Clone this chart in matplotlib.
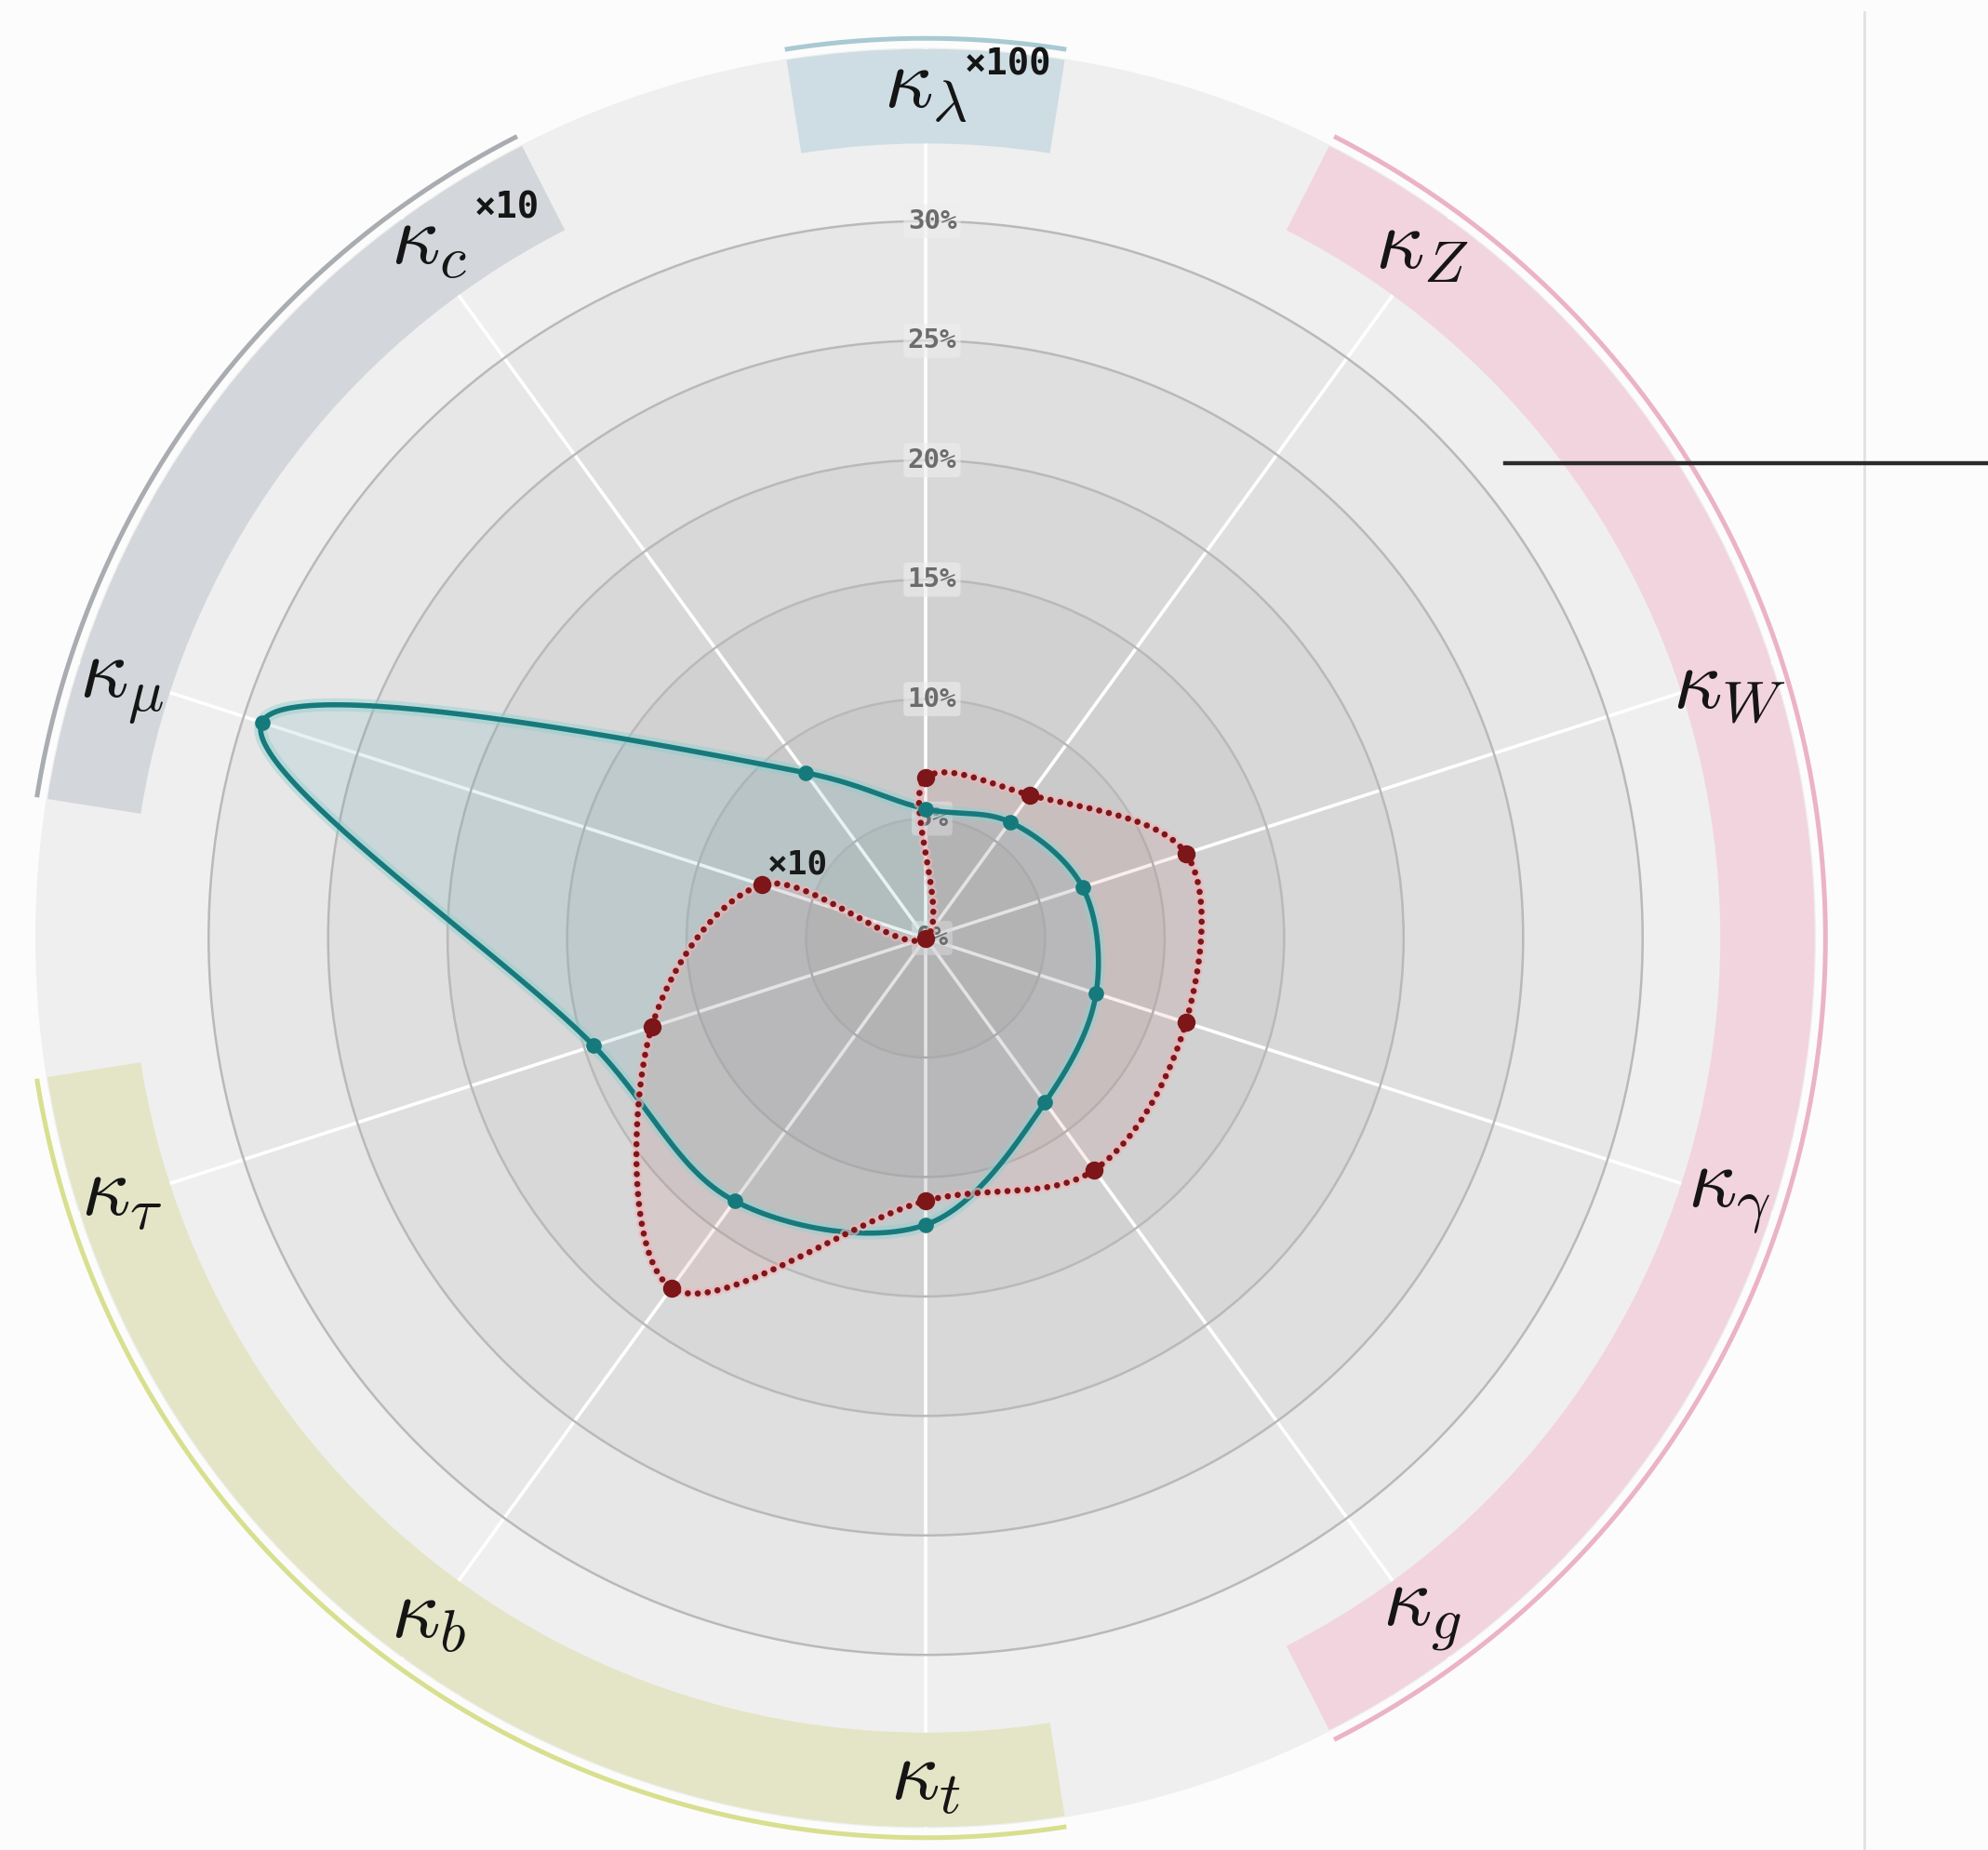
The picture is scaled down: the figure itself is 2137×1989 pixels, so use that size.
import numpy as np
import matplotlib
matplotlib.use('Agg')
import matplotlib.pyplot as plt
import matplotlib.patheffects as pe
from matplotlib.lines import Line2D

plt.rcParams['mathtext.fontset'] = 'cm'

# ---------------- data ----------------
categories = [r'$\kappa_\lambda$', r'$\kappa_Z$', r'$\kappa_W$', r'$\kappa_\gamma$', r'$\kappa_g$',
              r'$\kappa_t$', r'$\kappa_b$', r'$\kappa_\tau$', r'$\kappa_\mu$', r'$\kappa_c$']
teal_values = [5.4, 6.0, 6.9, 7.5, 8.5, 12.0, 13.6, 14.6, 29.2, 8.55]
red_values = [6.7, 7.4, 11.45, 11.45, 12.0, 11.0, 18.1, 12.05, 7.2, 0.0]
radial_ticks = [0, 5, 10, 15, 20, 25, 30]
radial_tick_labels = ['0%', '5%', '10%', '15%', '20%', '25%', '30%']
# groups: (first index, last index, band colour, outer line colour)
group_first = [0, 1, 5, 8]
group_last = [0, 4, 7, 9]
group_band_colors = ['#cddde3', '#f2d4de', '#e4e5c6', '#d3d6da']
group_line_colors = ['#a9c9d3', '#ebb3c5', '#d8df8e', '#a9acb1']
label_notes = {0: '×100', 9: '×10'}
red_point_notes = {8: '×10'}

W, H, DPI = 2137, 1989, 200
fig = plt.figure(figsize=(W / DPI, H / DPI), dpi=DPI, facecolor='#fcfcfc')

cx, cy, R = 995.0, 1008.5, 957.0
ax = fig.add_axes([(cx - R) / W, (H - cy - R) / H, 2 * R / W, 2 * R / H], projection='polar')
RMAX = 37.25
ax.set_theta_zero_location('N')
ax.set_theta_direction(-1)
ax.set_ylim(0, RMAX)
ax.set_facecolor('#efefef')
ax.spines['polar'].set_visible(False)
ax.set_axisbelow(True)

n = len(categories)
step = 2 * np.pi / n
theta = np.arange(n) * step

ax.set_xticks(theta)
ax.set_xticklabels([])
ax.set_yticks(radial_ticks[1:])
ax.set_yticklabels([])
ax.xaxis.grid(True, color='white', lw=1.3)
ax.yaxis.grid(True, color='#b9b9b9', lw=0.9)

# concentric shading
circ = np.linspace(0, 2 * np.pi, 500)
for r in radial_ticks[1:]:
    ax.fill_between(circ, 0, r, color='black', alpha=0.03, lw=0, zorder=0.3)

# group bands
pad = np.deg2rad(9)
for f, l, bc, lc in zip(group_first, group_last, group_band_colors, group_line_colors):
    a0 = theta[f] - pad
    a1 = theta[l] + pad
    ax.bar((a0 + a1) / 2, 3.95, width=a1 - a0, bottom=33.25, color=bc, edgecolor='none', zorder=2)
    arc = np.linspace(a0, a1, 200)
    ax.plot(arc, np.full_like(arc, 37.65), color=lc, lw=1.8, solid_capstyle='butt',
            clip_on=False, zorder=2)

# radial tick labels
for r, lbl in zip(radial_ticks, radial_tick_labels):
    ax.annotate(lbl, xy=(0, r), xytext=(2.5, 0), textcoords='offset points',
                ha='center', va='center', fontsize=10.5, family='DejaVu Sans Mono',
                weight='bold', color='#6c6c6c', zorder=3,
                bbox=dict(boxstyle='round,pad=0.15', fc='#eeeeee', ec='none', alpha=0.6))


def smooth_closed(th, rv, m=60, alpha=0.5):
    th = np.asarray(th, float)
    rv = np.asarray(rv, float)
    P = np.column_stack([rv * np.sin(th), rv * np.cos(th)])
    N = len(P)
    out = []
    for i in range(N):
        p0, p1, p2, p3 = P[(i - 1) % N], P[i], P[(i + 1) % N], P[(i + 2) % N]
        t0 = 0.0
        t1 = t0 + max(np.linalg.norm(p1 - p0), 1e-6) ** alpha
        t2 = t1 + max(np.linalg.norm(p2 - p1), 1e-6) ** alpha
        t3 = t2 + max(np.linalg.norm(p3 - p2), 1e-6) ** alpha
        t = np.linspace(t1, t2, m, endpoint=False)[:, None]
        A1 = (t1 - t) / (t1 - t0) * p0 + (t - t0) / (t1 - t0) * p1
        A2 = (t2 - t) / (t2 - t1) * p1 + (t - t1) / (t2 - t1) * p2
        A3 = (t3 - t) / (t3 - t2) * p2 + (t - t2) / (t3 - t2) * p3
        B1 = (t2 - t) / (t2 - t0) * A1 + (t - t0) / (t2 - t0) * A2
        B2 = (t3 - t) / (t3 - t1) * A2 + (t - t1) / (t3 - t1) * A3
        C = (t2 - t) / (t2 - t1) * B1 + (t - t1) / (t2 - t1) * B2
        out.append(C)
    out.append(P[:1])
    pts = np.vstack(out)
    return np.arctan2(pts[:, 0], pts[:, 1]), np.hypot(pts[:, 0], pts[:, 1])


# teal series
tc = '#167a7c'
tth, trr = smooth_closed(theta, teal_values)
ax.fill(tth, trr, color='#3a9aa2', alpha=0.12, lw=0, zorder=4)
ax.plot(tth, trr, color=tc, lw=2.0, zorder=5,
        path_effects=[pe.Stroke(linewidth=5, foreground='#8fd0d0', alpha=0.45), pe.Normal()])
ax.plot(theta, teal_values, 'o', color=tc, ms=5, zorder=6)

# red series
rc = '#7d1619'
rth, rrr = smooth_closed(theta, red_values)
ax.fill(rth, rrr, color='#c4323c', alpha=0.08, lw=0, zorder=4)
ax.plot(rth, rrr, color=rc, lw=2.4, ls=(0, (0.01, 1.6)), dash_capstyle='round', zorder=5,
        path_effects=[pe.Stroke(linewidth=4.2, foreground='#f0b4b8', alpha=0.65), pe.Normal()])
ax.plot(theta, red_values, 'o', color=rc, ms=6, zorder=6)
for i, note in red_point_notes.items():
    ax.annotate(note, xy=(theta[i], red_values[i]), xytext=(14, 8), textcoords='offset points',
                ha='center', va='center', fontsize=13, family='DejaVu Sans Mono', weight='bold',
                color='#1a1a1a', zorder=7)

# category labels
label_dy = [4, 4, -3, 2, 4, 3, 3, 3, -3, 6]
for i, lbl in enumerate(categories):
    ax.annotate(lbl, xy=(theta[i], 35.35), xytext=(0, label_dy[i]), textcoords='offset points',
                ha='center', va='center', fontsize=33, color='#151515', zorder=7,
                annotation_clip=False)
label_note_offsets = {0: (32, 11), 9: (30, 18)}
for i, note in label_notes.items():
    ax.annotate(note, xy=(theta[i], 35.35), xytext=label_note_offsets[i], textcoords='offset points',
                ha='center', va='center', fontsize=14, family='DejaVu Sans Mono', weight='bold',
                color='#151515', zorder=7, annotation_clip=False)

# figure-level rules at the right
fig.add_artist(Line2D([2003.5 / W, 2003.5 / W], [0, 1 - 13 / H], transform=fig.transFigure,
                      color='#e2e2e2', lw=1.0))
fig.add_artist(Line2D([1618 / W, 1.0], [1 - 497.5 / H] * 2, transform=fig.transFigure,
                      color='#2b2b2b', lw=1.6, zorder=20))

fig.savefig('out.png', dpi=DPI, facecolor=fig.get_facecolor())
